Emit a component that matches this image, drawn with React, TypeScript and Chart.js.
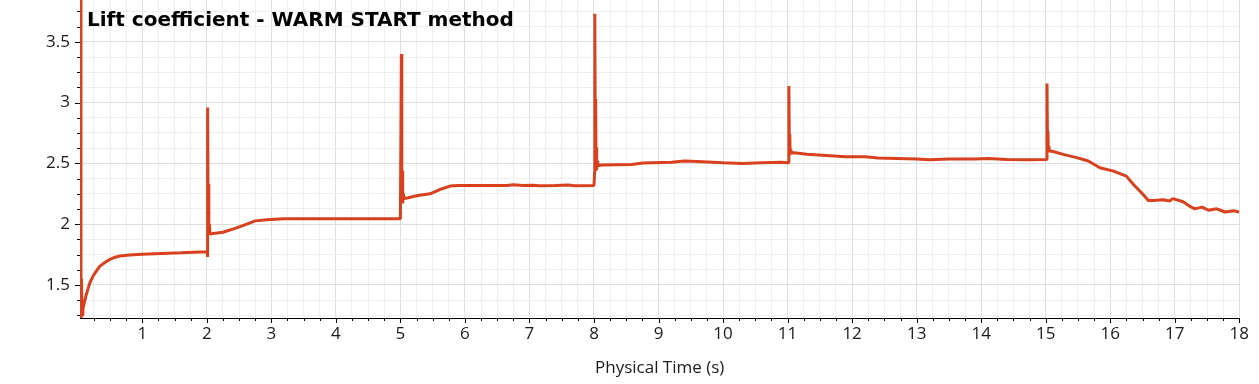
import React, { useEffect, useRef } from "react";
import { Chart, registerables } from "chart.js";

Chart.register(...registerables);

const chartTitle = "Lift coefficient - WARM START method";
const xAxisTitle = "Physical Time (s)";

// Physical time (s)
const timeValues: number[] = [
  0.045, 0.05, 0.058, 0.066, 0.08, 0.1, 0.127, 0.16, 0.19, 0.23, 0.27, 0.34, 0.42, 0.5, 0.58, 0.65, 0.8, 1.0, 1.3, 1.6, 1.99,
  2.005, 2.009, 2.012, 2.016, 2.022, 2.028, 2.034, 2.04, 2.05, 2.07, 2.25, 2.44, 2.62, 2.75, 2.93, 3.2, 4.0, 5.0,
  5.005, 5.015, 5.022, 5.03, 5.036, 5.045, 5.06, 5.12, 5.27, 5.46, 5.61, 5.77, 5.9, 6.3, 6.65, 6.75, 6.9, 7.05, 7.15, 7.4, 7.6, 7.7, 8.0,
  8.01, 8.013, 8.02, 8.026, 8.032, 8.038, 8.046, 8.055, 8.07, 8.12, 8.58, 8.76, 9.2, 9.4, 9.6, 10.0, 10.3, 10.6, 10.9, 11.0,
  11.01, 11.02, 11.028, 11.034, 11.04, 11.048, 11.06, 11.1, 11.3, 11.6, 11.9, 12.2, 12.4, 12.7, 13.0, 13.2, 13.5, 13.9, 14.1, 14.4, 14.7, 15.0,
  15.01, 15.02, 15.028, 15.034, 15.04, 15.048, 15.06, 15.1, 15.27, 15.48, 15.66, 15.84, 16.05, 16.25, 16.36, 16.51, 16.59, 16.67, 16.82,
  16.92, 16.97, 17.13, 17.23, 17.31, 17.42, 17.52, 17.65, 17.78, 17.91, 18.0,
];

// Lift coefficient
const liftValues: number[] = [
  5.0, 1.21, 1.55, 1.25, 1.3, 1.35, 1.41, 1.47, 1.52, 1.565, 1.6, 1.653, 1.685, 1.71, 1.728, 1.738, 1.746, 1.752, 1.758, 1.764, 1.772,
  1.774, 1.73, 2.15, 2.96, 1.95, 2.33, 1.94, 2.0, 1.915, 1.922, 1.933, 1.965, 2.0, 2.027, 2.037, 2.044, 2.045, 2.045,
  2.045, 3.4, 2.2, 2.44, 2.17, 2.25, 2.21, 2.217, 2.236, 2.25, 2.285, 2.313, 2.318, 2.318, 2.318, 2.325, 2.318, 2.32, 2.315, 2.318, 2.322, 2.316, 2.318,
  2.43, 3.73, 2.6, 3.03, 2.45, 2.63, 2.47, 2.52, 2.48, 2.486, 2.49, 2.503, 2.51, 2.52, 2.515, 2.505, 2.5, 2.505, 2.51, 2.505,
  2.505, 3.137, 2.6, 2.74, 2.58, 2.615, 2.585, 2.588, 2.575, 2.565, 2.555, 2.555, 2.545, 2.54, 2.535, 2.53, 2.535, 2.535, 2.54, 2.532, 2.53, 2.532,
  2.532, 3.157, 2.62, 2.766, 2.61, 2.64, 2.6, 2.6, 2.574, 2.547, 2.52, 2.464, 2.436, 2.395, 2.326, 2.244, 2.195, 2.195, 2.2,
  2.19, 2.21, 2.184, 2.148, 2.126, 2.14, 2.115, 2.126, 2.1, 2.11, 2.1,
];

const xMin = 0.035;
const xMax = 18;
const yMin = 1.228;
const yMax = 3.844;

const xMajorTicks = [1, 2, 3, 4, 5, 6, 7, 8, 9, 10, 11, 12, 13, 14, 15, 16, 17, 18];
const xMinorPerMajor = 4;
const yMajorTicks = [1.5, 2, 2.5, 3, 3.5];
const yMinorPerMajor = 4;

const yTickLabels: Record<string, string> = { "1.5": "1.5", "2": "2", "2.5": "2.5", "3": "3", "3.5": "3.5" };

const lineColor = "#d9401e";
const majorGrid = "#dedede";
const minorGrid = "#efefef";
const labelFont = '"Open Sans"';

function buildTicks(majors: number[], perMajor: number, lo: number, hi: number): number[] {
  const step = majors[1] - majors[0];
  const minor = step / perMajor;
  const out: number[] = [];
  const start = Math.ceil(lo / minor);
  const end = Math.floor(hi / minor + 1e-9);
  for (let i = start; i <= end; i++) out.push(Math.round(i * minor * 1000) / 1000);
  return out;
}

function isMajor(v: number, majors: number[]) {
  return majors.some((m) => Math.abs(m - v) < 1e-6);
}

const decorPlugin = {
  id: "decor",
  afterDraw(chart: any) {
    const { ctx, chartArea, scales } = chart;
    const xs = scales.x;
    const ys = scales.y;
    ctx.save();
    ctx.strokeStyle = "#000";
    ctx.lineWidth = 1;
    ctx.beginPath();
    for (const t of ys.ticks) {
      const y = Math.round(ys.getPixelForValue(t.value)) + 0.5;
      const len = isMajor(t.value, yMajorTicks) ? 5 : 3;
      ctx.moveTo(chartArea.left - len, y);
      ctx.lineTo(chartArea.left, y);
    }
    for (const t of xs.ticks) {
      const x = Math.round(xs.getPixelForValue(t.value)) + 0.5;
      const len = isMajor(t.value, xMajorTicks) ? 5 : 3;
      ctx.moveTo(x, chartArea.bottom);
      ctx.lineTo(x, chartArea.bottom + len);
    }
    ctx.stroke();
    ctx.fillStyle = "#000";
    ctx.font = 'bold 20px "DejaVu Sans"';
    ctx.textAlign = "left";
    ctx.textBaseline = "alphabetic";
    ctx.fillText(chartTitle, chartArea.left + 7, 26);
    ctx.restore();
  },
};

export default function App() {
  const ref = useRef<HTMLCanvasElement | null>(null);
  useEffect(() => {
    if (!ref.current) return;
    const points = timeValues.map((t, i) => ({ x: t, y: liftValues[i] }));
    const xTicks = buildTicks(xMajorTicks, xMinorPerMajor, xMin, xMax);
    const yTicks = buildTicks(yMajorTicks, yMinorPerMajor, yMin, yMax);
    const chart = new Chart(ref.current, {
      type: "line",
      data: {
        datasets: [
          {
            data: points,
            borderColor: lineColor,
            borderWidth: 3,
            borderJoinStyle: "bevel",
            pointRadius: 0,
            tension: 0,
            fill: false,
          },
        ],
      },
      options: {
        animation: false,
        responsive: false,
        maintainAspectRatio: false,
        layout: { padding: { top: 0, left: 0, right: 19.7, bottom: 0 } },
        plugins: { legend: { display: false }, tooltip: { enabled: false }, title: { display: false } },
        scales: {
          x: {
            type: "linear",
            min: xMin,
            max: xMax,
            bounds: "data",
            afterBuildTicks: (s: any) => {
              s.ticks = xTicks.map((v) => ({ value: v }));
            },
            afterFit: (s: any) => {
              s.height = 66;
              s.paddingLeft = 0;
              s.paddingRight = 0;
            },
            ticks: {
              autoSkip: false,
              maxRotation: 0,
              padding: 6,
              color: "#1a1a1a",
              font: { family: labelFont, size: 17 },
              callback: (v: any) => (isMajor(Number(v), xMajorTicks) ? String(Math.round(Number(v))) : ""),
            },
            grid: {
              drawTicks: false,
              color: (c: any) => (c.tick && isMajor(c.tick.value, xMajorTicks) ? majorGrid : minorGrid),
            },
            border: { display: true, color: "#000", width: 1 },
            title: {
              display: true,
              text: xAxisTitle,
              color: "#1a1a1a",
              font: { family: labelFont, size: 17 },
              padding: { top: 0, bottom: 6 },
            },
          },
          y: {
            type: "linear",
            min: yMin,
            max: yMax,
            bounds: "data",
            afterBuildTicks: (s: any) => {
              s.ticks = yTicks.map((v) => ({ value: v }));
            },
            afterFit: (s: any) => {
              s.width = 80;
              s.paddingTop = 0;
              s.paddingBottom = 0;
            },
            ticks: {
              autoSkip: false,
              padding: 10,
              color: "#1a1a1a",
              font: { family: labelFont, size: 17 },
              callback: (v: any) => {
                const key = String(Number(v));
                return isMajor(Number(v), yMajorTicks) ? yTickLabels[key] ?? key : "";
              },
            },
            grid: {
              drawTicks: false,
              color: (c: any) => (c.tick && isMajor(c.tick.value, yMajorTicks) ? majorGrid : minorGrid),
            },
            border: { display: true, color: "#000", width: 1 },
          },
        },
      },
      plugins: [decorPlugin],
    } as any);
    return () => chart.destroy();
  }, []);
  return (
    <div style={{ position: "absolute", left: 0, top: 0, width: 1259, height: 384, background: "#fff" }}>
      <canvas ref={ref} width={1259} height={384} style={{ display: "block", width: 1259, height: 384 }} />
    </div>
  );
}
